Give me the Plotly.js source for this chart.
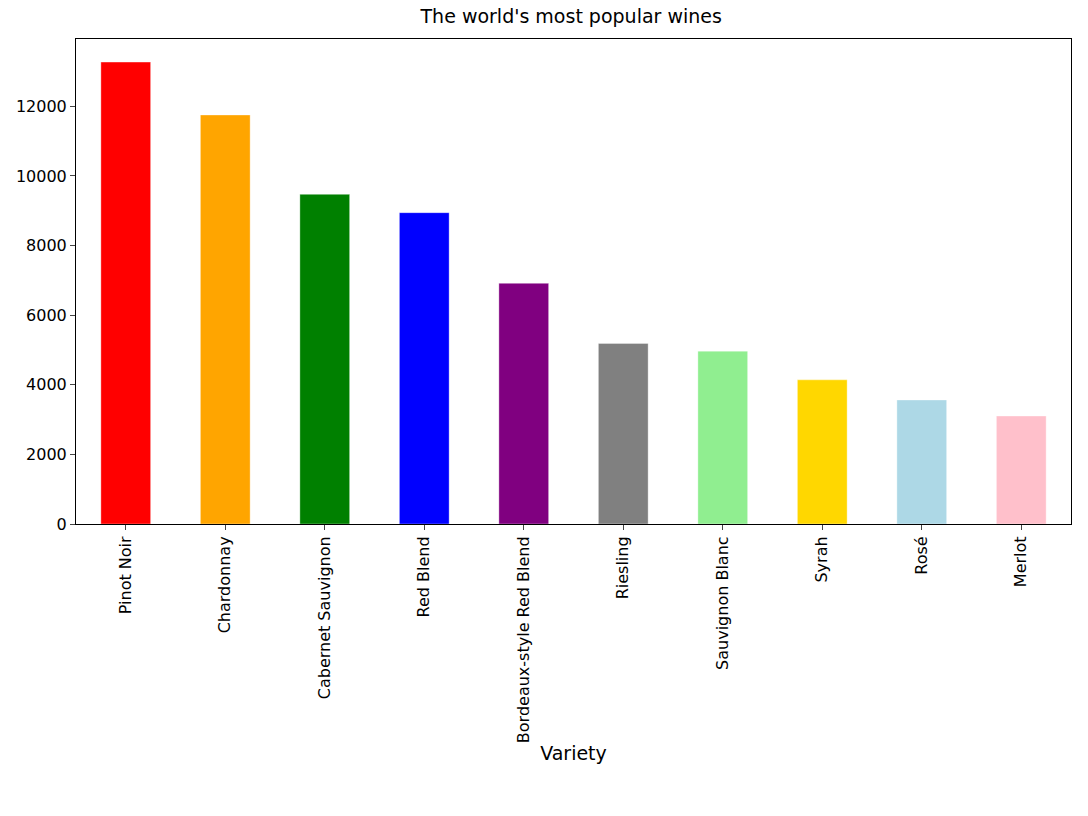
<!DOCTYPE html>
<html><head><meta charset="utf-8">
<script src="https://cdn.plot.ly/plotly-3.0.1.min.js"></script>
<style>body{margin:0}#c{width:1088px;height:816px}</style>
</head><body><div id="c"></div>
<script>
const varieties = ["Pinot Noir", "Chardonnay", "Cabernet Sauvignon", "Red Blend", "Bordeaux-style Red Blend", "Riesling", "Sauvignon Blanc", "Syrah", "Rosé", "Merlot"];
const counts = [13272, 11753, 9472, 8946, 6915, 5189, 4967, 4142, 3564, 3102];
const colors = ["red", "orange", "green", "blue", "purple", "gray", "lightgreen", "gold", "lightblue", "pink"];

Plotly.newPlot("c", [{
  x: varieties, y: counts, type: "bar", width: 0.5,
  marker: { color: colors, line: { color: "rgba(255,255,255,0.35)", width: 1 } }
}], {
  width: 1088, height: 816,
  margin: { l: 76, r: 17, t: 39, b: 292 },
  paper_bgcolor: "#fff", plot_bgcolor: "#fff",
  font: { family: "DejaVu Sans", size: 16, color: "#000" },
  title: { text: "The world's most popular wines", x: 0.525, y: 0.988, yanchor: "top", font: { size: 19 } },
  showlegend: false,
  xaxis: {
    title: { text: "Variety", standoff: 4 }, tickangle: -90,
    ticks: "outside", ticklen: 5, showline: true, mirror: true, linecolor: "#000", showgrid: false,
    range: [-0.5, 9.5]
  },
  yaxis: {
    range: [0, 13936], dtick: 2000, tickformat: "d", ticks: "outside", ticklen: 5,
    showline: true, mirror: true, linecolor: "#000", showgrid: false, zeroline: false
  }
}, { displayModeBar: false });
</script></body></html>
